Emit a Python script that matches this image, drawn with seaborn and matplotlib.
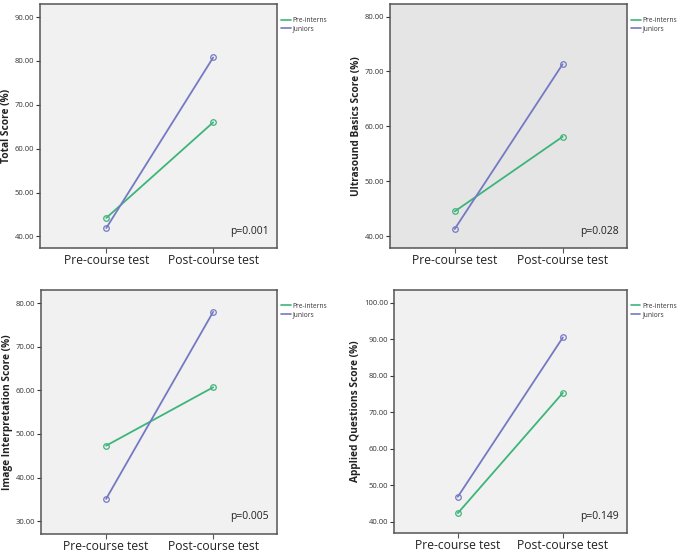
import matplotlib
matplotlib.use("Agg")
import matplotlib.pyplot as plt
import seaborn as sns
import pandas as pd
from matplotlib.ticker import FormatStrFormatter

sns.set_style("white")
plt.rcParams['font.family'] = ['Open Sans', 'DejaVu Sans']

tests = ["Pre-course test", "Post-course test"]
groups = ["Pre-interns", "Juniors"]

total_pre_interns = [44.2, 66.0]
total_juniors = [41.9, 80.8]
basics_pre_interns = [44.5, 58.1]
basics_juniors = [41.3, 71.3]
image_pre_interns = [47.3, 60.7]
image_juniors = [35.1, 78.0]
applied_pre_interns = [42.3, 75.3]
applied_juniors = [46.8, 90.5]

ylabels = ["Total Score (%)", "Ultrasound Basics Score (%)",
           "Image Interpretation Score (%)", "Applied Questions Score (%)"]
pvalues = ["p=0.001", "p=0.028", "p=0.005", "p=0.149"]
yticks = [[40, 50, 60, 70, 80, 90], [40, 50, 60, 70, 80],
          [30, 40, 50, 60, 70, 80], [40, 50, 60, 70, 80, 90, 100]]
ylims = [(37.3, 92.9), (37.8, 82.2), (27.1, 83.0), (36.8, 103.5)]
xlims = [(-0.62, 1.60), (-0.60, 1.60), (-0.61, 1.60), (-0.61, 1.61)]
bgs = ["#f1f1f1", "#e5e5e5", "#f1f1f1", "#f1f1f1"]
positions = [[0.0588, 0.552, 0.349, 0.440],
             [0.5735, 0.552, 0.349, 0.440],
             [0.060, 0.0365, 0.348, 0.440],
             [0.579, 0.0375, 0.343, 0.439]]

series = [(total_pre_interns, total_juniors),
          (basics_pre_interns, basics_juniors),
          (image_pre_interns, image_juniors),
          (applied_pre_interns, applied_juniors)]

palette = {"Pre-interns": "#3db57a", "Juniors": "#7479c4"}

fig = plt.figure(figsize=(6.8, 5.54), dpi=100)

for i in range(4):
    ax = fig.add_axes(positions[i])
    pi, ju = series[i]
    df = pd.DataFrame({
        "Score": list(pi) + list(ju),
        "Group": [groups[0]] * 2 + [groups[1]] * 2,
    })
    df["x"] = [0, 1, 0, 1]
    sns.lineplot(data=df, x="x", y="Score", hue="Group", palette=palette,
                 marker="o", markersize=4, linewidth=1.3, ax=ax,
                 legend=True)
    for ln in ax.lines:
        ln.set_markerfacecolor("none")
        ln.set_markeredgecolor(ln.get_color())
        ln.set_markeredgewidth(0.9)
    ax.set_facecolor(bgs[i])
    ax.set_xlim(*xlims[i])
    ax.set_ylim(*ylims[i])
    ax.set_xticks([0, 1])
    ax.set_xticklabels(tests, fontsize=8.7, color="#222222")
    ax.set_yticks(yticks[i])
    ax.yaxis.set_major_formatter(FormatStrFormatter("%.2f"))
    ax.tick_params(axis="y", labelsize=5.5, colors="#333333", length=3,
                   width=0.8, direction="out", left=True, pad=1)
    ax.tick_params(axis="x", length=3.5, width=0.8, direction="out",
                   bottom=True, pad=1, colors="#555555", labelcolor="#222222")
    ax.set_xlabel("")
    ax.set_ylabel(ylabels[i], fontsize=7.3, fontweight="bold",
                  color="#222222", labelpad=2)
    for sp in ax.spines.values():
        sp.set_color("#555555")
        sp.set_linewidth(1.1)
    ax.text(0.965, 0.07, pvalues[i], transform=ax.transAxes, ha="right",
            va="center", fontsize=7.5, color="#222222")
    leg = ax.legend(loc="upper left", bbox_to_anchor=(1.0, 0.965),
                    frameon=False, fontsize=4.8, handlelength=1.4,
                    handletextpad=0.3, labelspacing=0.2, borderaxespad=0.2)
    for h in leg.get_lines():
        h.set_marker("")
        h.set_linewidth(1.2)
    for t in leg.get_texts():
        t.set_color("#333333")

fig.savefig("out.png", dpi=100)
